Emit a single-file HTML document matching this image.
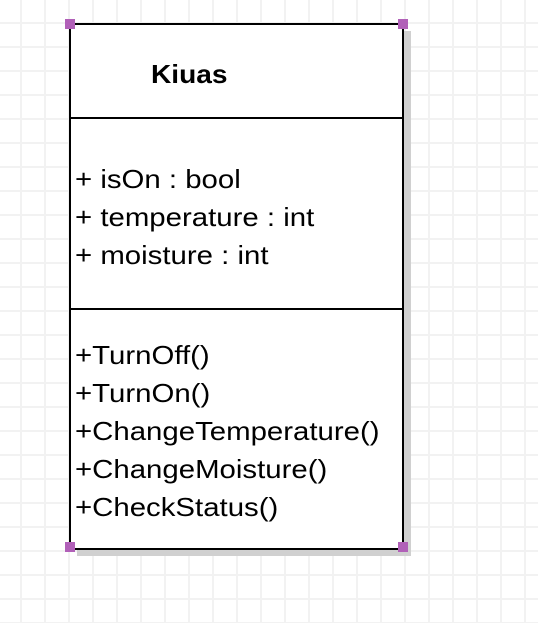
<!DOCTYPE html>
<html><head><style>
body{margin:0;width:538px;height:623px;overflow:hidden;background:#fff;
background-image:linear-gradient(to right,#f2f2f2 2px,transparent 2px),linear-gradient(to bottom,#f2f2f2 2px,transparent 2px);
background-size:24px 24px;background-position:20px 22px;position:relative;font-family:"Liberation Sans",sans-serif}
.a{position:absolute}
.t{position:absolute;left:75px;font-size:26px;line-height:26px;color:#000;white-space:nowrap;transform:scaleX(1.13);transform-origin:0 0}
.h{position:absolute;width:10px;height:10px;background:#b160b8}
</style></head><body>
<div class="a" style="left:77px;top:31px;width:334px;height:525px;background:#d0d0d0"></div>
<div class="a" style="left:69px;top:23px;width:331px;height:523px;border:2px solid #000;background:#fff"></div>
<div class="a" style="left:69px;top:117px;width:335px;height:2px;background:#000"></div>
<div class="a" style="left:69px;top:308px;width:335px;height:2px;background:#000"></div>
<div class="t" style="left:151px;top:61px;font-weight:bold;transform:scaleX(1.08)">Kiuas</div>
<div class="t" style="top:166px">+ isOn : bool</div>
<div class="t" style="top:204px">+ temperature : int</div>
<div class="t" style="top:242px">+ moisture : int</div>
<div class="t" style="top:342px">+TurnOff()</div>
<div class="t" style="top:380px">+TurnOn()</div>
<div class="t" style="top:418px">+ChangeTemperature()</div>
<div class="t" style="top:456px">+ChangeMoisture()</div>
<div class="t" style="top:494px">+CheckStatus()</div>
<div class="h" style="left:65px;top:19px"></div>
<div class="h" style="left:398px;top:19px"></div>
<div class="h" style="left:65px;top:542px"></div>
<div class="h" style="left:398px;top:542px"></div>
</body></html>
